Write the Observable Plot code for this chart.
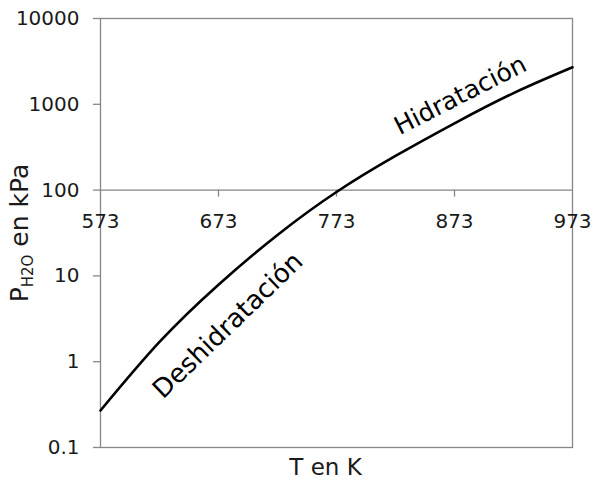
<!DOCTYPE html>
<html>
<head>
<meta charset="utf-8">
<script src="https://cdn.jsdelivr.net/npm/d3@7"></script>
<script src="https://cdn.jsdelivr.net/npm/@observablehq/plot@0.6"></script>
<style>
  html, body { margin: 0; padding: 0; background: #fff; }
  #chart { width: 592px; height: 480px; }
</style>
</head>
<body>
<div id="chart"></div>
<script>
// Temperature (K) and water vapour pressure (kPa)
const temps = [573, 623, 673, 723, 773, 823, 873, 923, 973];
const pressures = [0.27, 1.7, 7.9, 30, 95, 250, 600, 1350, 2700];
const xTicks = [573, 673, 773, 873, 973];
const yTicks = [0.1, 1, 10, 100, 1000, 10000];
const curveLabels = ["Deshidratación", "Hidratación"];
const labelT = [681, 878];
const labelP = [2.64, 1270];
const labelAngle = [-44, -27];
const labelSize = [26, 25];

const data = temps.map((t, i) => ({T: t, P: pressures[i]}));
const labels = curveLabels.map((s, i) => ({text: s, T: labelT[i], P: labelP[i], a: labelAngle[i], s: labelSize[i]}));

const font = "DejaVu Sans, Verdana, sans-serif";
const gray = "#868686";
const ink = "#1a1a1a";

const chart = Plot.plot({
  width: 592,
  height: 480,
  marginLeft: 100,
  marginRight: 20,
  marginTop: 18,
  marginBottom: 33,
  style: {fontFamily: font, fontSize: "20px", color: ink, background: "#fff"},
  x: {domain: [573, 973], axis: null},
  y: {type: "log", domain: [0.1, 10000], axis: null},
  marks: [
    Plot.frame({stroke: gray, strokeWidth: 1.3}),
    Plot.ruleY([100], {stroke: gray, strokeWidth: 1.3}),
    // x ticks pointing down from the 100 line
    Plot.ruleX(xTicks.slice(1, -1), {x: d => d, y1: 100, y2: 100, insetBottom: -7, stroke: gray, strokeWidth: 1.3}),
    Plot.text(xTicks, {x: d => d, y: 100, dy: 31, text: d => String(d), fontSize: 20, fill: ink}),
    // y ticks pointing left
    Plot.ruleY(yTicks, {y: d => d, x1: 573, x2: 573, insetLeft: -7, stroke: gray, strokeWidth: 1.3}),
    Plot.text(yTicks, {y: d => d, x: 573, dx: -21, textAnchor: "end", text: d => String(d), fontSize: 20, fill: ink}),
    Plot.line(data, {x: "T", y: "P", curve: "natural", stroke: "#000", strokeWidth: 2.6}),
    Plot.text(labels, {x: "T", y: "P", text: "text", rotate: "a", fontSize: "s", fill: "#000"}),
    Plot.text(["T en K"], {frameAnchor: "bottom", lineAnchor: "middle", dy: 20, dx: -11, text: d => d, fontSize: 23, fill: ink})
  ]
});

document.getElementById("chart").appendChild(chart);

// y-axis title with subscript
const svg = d3.select(chart);
const t = svg.append("text")
  .attr("transform", "translate(28,233) rotate(-90)")
  .attr("text-anchor", "middle")
  .attr("font-family", font)
  .attr("font-size", 25)
  .attr("fill", ink);
t.append("tspan").text("P");
t.append("tspan").attr("font-size", 15).attr("dy", 5).text("H2O");
t.append("tspan").attr("dy", -5).text(" en kPa");
</script>
</body>
</html>
